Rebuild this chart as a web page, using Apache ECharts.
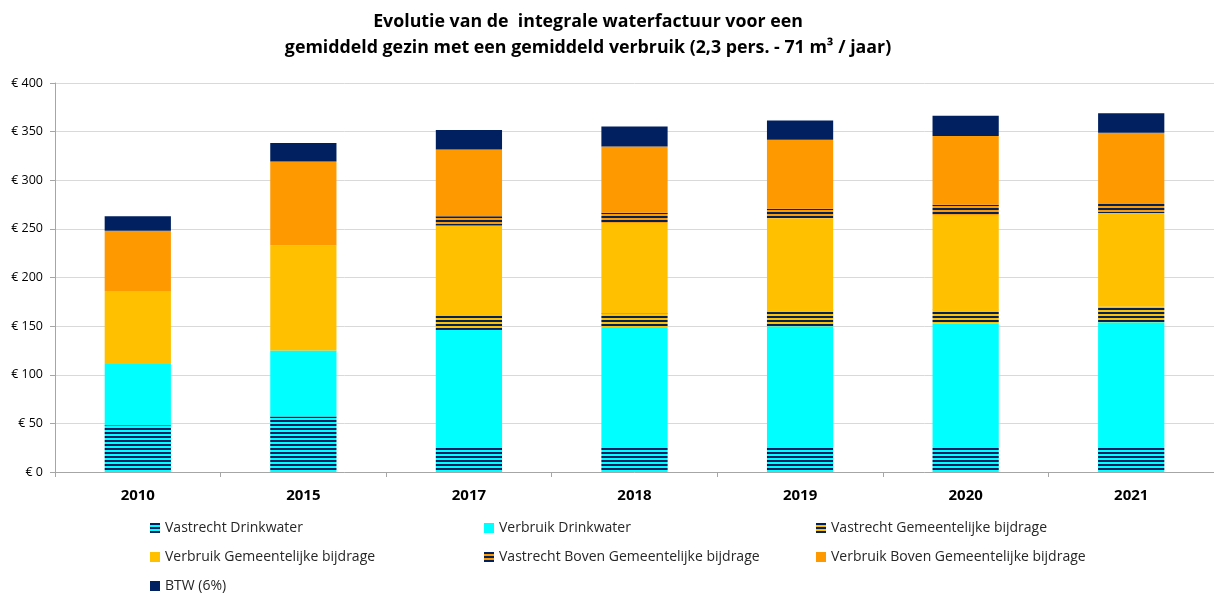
<!DOCTYPE html>
<html>
<head>
<meta charset="utf-8">
<script src="https://cdn.jsdelivr.net/npm/echarts@6/dist/echarts.min.js"></script>
<style>
  html, body { margin: 0; padding: 0; background: #fff; }
  #dom { width: 1214px; height: 593px; }
</style>
</head>
<body>
<div id="dom"></div>
<script>
  // data
  let years = ['2010', '2015', '2017', '2018', '2019', '2020', '2021']
  let vastrechtDrinkwater = [48, 57, 27, 27, 27, 27, 27]
  let verbruikDrinkwater = [63, 68, 119, 121, 123, 125.5, 127]
  let vastrechtGemeente = [0, 0, 16.5, 15, 16.8, 14.4, 16.2]
  let verbruikGemeente = [75, 108, 91, 92.5, 94, 97.4, 96]
  let vastrechtBoven = [0, 0, 9.5, 11, 10, 10.6, 11.4]
  let verbruikBoven = [62, 86.4, 68.6, 68.2, 70.9, 70.6, 71.3]
  let btw = [15, 18.8, 20, 20.5, 19.8, 20.8, 20.1]
  let yTicks = [0, 50, 100, 150, 200, 250, 300, 350, 400]

  let navy = '#002060'

  // horizontal stripe pattern
  function stripes (bg) {
    let c = document.createElement('canvas')
    c.width = 8
    c.height = 4
    let ctx = c.getContext('2d')
    ctx.fillStyle = bg
    ctx.fillRect(0, 0, 8, 4)
    ctx.fillStyle = navy
    ctx.fillRect(0, 0, 8, 2)
    return { image: c, repeat: 'repeat' }
  }

  function bar (name, data, color) {
    return {
      name: name,
      type: 'bar',
      stack: 'total',
      barWidth: '40%',
      data: data,
      itemStyle: { color: color },
      emphasis: { disabled: true }
    }
  }

  let legendText = { fontFamily: 'Open Sans', fontSize: 14, color: '#262626', lineHeight: 14 }
  function legendCol (left, top, names) {
    return {
      orient: 'vertical',
      left: left,
      top: top,
      padding: 0,
      itemGap: 15,
      itemWidth: 10,
      itemHeight: 10,
      icon: 'rect',
      textStyle: legendText,
      data: names
    }
  }

  let option = {
    animation: false,
    title: {
      text: 'Evolutie van de  integrale waterfactuur voor een\ngemiddeld gezin met een gemiddeld verbruik (2,3 pers. - 71 m³ / jaar)',
      left: 588,
      top: 9,
      padding: 0,
      textAlign: 'center',
      textStyle: { fontFamily: 'Open Sans', fontWeight: 'bold', fontSize: 17.8, lineHeight: 26, color: '#000' }
    },
    legend: [
      legendCol(150, 521, ['Vastrecht Drinkwater', 'Verbruik Gemeentelijke bijdrage']),
      legendCol(150, 579, ['BTW (6%)']),
      legendCol(484, 521, ['Verbruik Drinkwater', 'Vastrecht Boven Gemeentelijke bijdrage']),
      legendCol(816, 521, ['Vastrecht Gemeentelijke bijdrage', 'Verbruik Boven Gemeentelijke bijdrage'])
    ],
    grid: { left: 55, top: 83, width: 1162, bottom: 121 },
    xAxis: {
      type: 'category',
      data: years,
      axisLine: { lineStyle: { color: '#a6a6a6' } },
      axisTick: { show: true, length: 5, lineStyle: { color: '#a6a6a6' } },
      axisLabel: { margin: 16, fontFamily: 'Open Sans', fontWeight: 'bold', fontSize: 15, color: '#000' }
    },
    yAxis: {
      type: 'value',
      min: yTicks[0],
      max: yTicks[yTicks.length - 1],
      interval: 50,
      axisLine: { show: true, lineStyle: { color: '#a6a6a6' } },
      axisTick: { show: true, length: 5, lineStyle: { color: '#a6a6a6' } },
      axisLabel: { margin: 12, formatter: '€ {value}', fontFamily: 'Open Sans', fontSize: 12.5, color: '#000' },
      splitLine: { lineStyle: { color: '#d9d9d9' } }
    },
    series: [
      bar('Vastrecht Drinkwater', vastrechtDrinkwater, stripes('#00ffff')),
      bar('Verbruik Drinkwater', verbruikDrinkwater, '#00ffff'),
      bar('Vastrecht Gemeentelijke bijdrage', vastrechtGemeente, stripes('#ffc000')),
      bar('Verbruik Gemeentelijke bijdrage', verbruikGemeente, '#ffc000'),
      bar('Vastrecht Boven Gemeentelijke bijdrage', vastrechtBoven, stripes('#ff9900')),
      bar('Verbruik Boven Gemeentelijke bijdrage', verbruikBoven, '#ff9900'),
      bar('BTW (6%)', btw, navy)
    ]
  }

  let dom = echarts.init(document.getElementById('dom'))
  dom.setOption(option)
</script>
</body>
</html>
